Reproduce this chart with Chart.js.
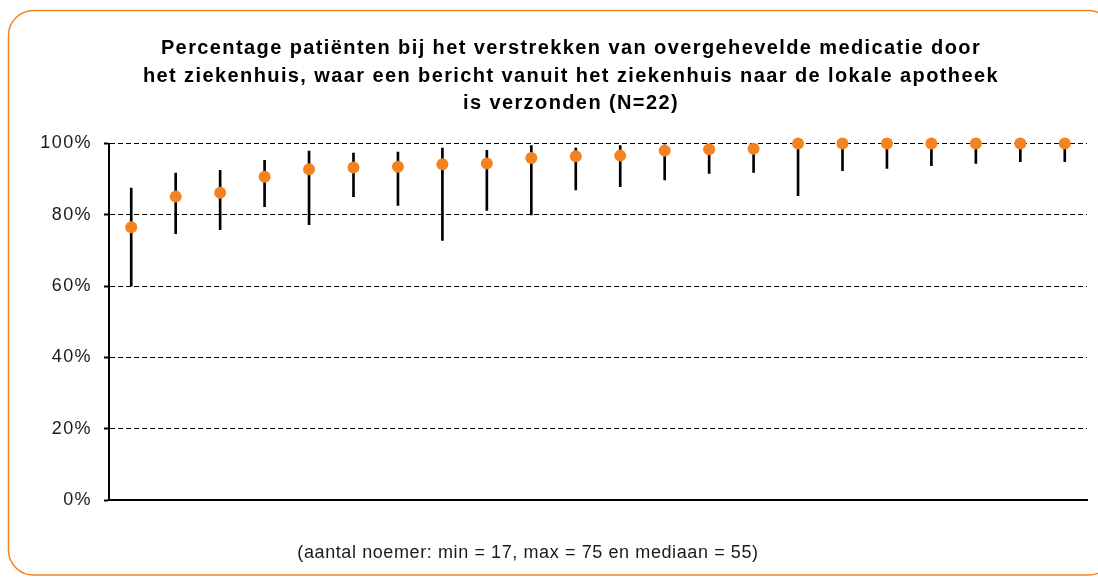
<!DOCTYPE html>
<html lang="nl">
<head>
<meta charset="utf-8">
<title>Overgehevelde medicatie - bericht naar lokale apotheek</title>
<script src="https://cdn.jsdelivr.net/npm/chart.js@4.4.1/dist/chart.umd.min.js"></script>
<style>
  html, body {
    margin: 0;
    padding: 0;
    background: #ffffff;
  }
  #wrap {
    position: relative;
    width: 1098px;
    height: 577px;
    overflow: hidden;
  }
  #footnote {
    position: absolute;
    left: 0;
    top: 541px;
    width: 1056px;
    text-align: center;
    font: 18px 'Liberation Sans', Arial, sans-serif;
    line-height: 22px;
    letter-spacing: 0.6px;
    color: #1a1a1a;
  }
</style>
</head>
<body>
<div id="wrap">
  <canvas id="ziekenhuisChart" width="1098" height="577"></canvas>
  <div id="footnote">(aantal noemer: min = 17, max = 75 en mediaan = 55)</div>
</div>
<script>
// Chart data (one entry per hospital, sorted by percentage)
const hospitals = ['1', '2', '3', '4', '5', '6', '7', '8', '9', '10', '11',
  '12', '13', '14', '15', '16', '17', '18', '19', '20', '21', '22'];
const percentages = [76.5, 85.1, 86.2, 90.7, 92.8, 93.3, 93.5, 94.2, 94.4, 95.9, 96.4,
  96.6, 98.0, 98.4, 98.5, 100, 100, 100, 100, 100, 100, 100];
const lowerBounds = [60.0, 74.7, 75.8, 82.3, 77.2, 85.1, 82.6, 72.8, 81.2, 80.0, 87.0,
  87.9, 89.8, 91.6, 91.9, 85.4, 92.4, 93.0, 93.8, 94.4, 94.9, 94.9];
const upperBounds = [87.5, 91.7, 92.5, 95.3, 97.9, 97.3, 97.6, 98.7, 98.1, 99.4, 98.7,
  99.4, 99.6, 99.8, 99.9, 100, 100, 100, 100, 100, 100, 100];
const yTicks = [0, 20, 40, 60, 80, 100];

const titleLines = [
  'Percentage patiënten bij het verstrekken van overgehevelde medicatie door',
  'het ziekenhuis, waar een bericht vanuit het ziekenhuis naar de lokale apotheek',
  'is verzonden (N=22)'
];

const ORANGE = '#F58220';
const FONT = "'Liberation Sans', Arial, sans-serif";

/**
 * Orange rounded frame around the whole chart, plus the wide text spacing
 */
const framePlugin = {
  id: 'frame',
  afterLayout(chart) {
    // let the y labels use the space left of the axis box (title stays centred)
    chart.scales.y.left = 0;
  },
  beforeDraw(chart) {
    const ctx = chart.ctx;
    const x = 8.5, y = 10.5, w = 1105, h = 564.5, r = 25;
    ctx.save();
    ctx.strokeStyle = ORANGE;
    ctx.lineWidth = 1.5;
    ctx.beginPath();
    ctx.moveTo(x + r, y);
    ctx.arcTo(x + w, y, x + w, y + h, r);
    ctx.arcTo(x + w, y + h, x, y + h, r);
    ctx.arcTo(x, y + h, x, y, r);
    ctx.arcTo(x, y, x + w, y, r);
    ctx.closePath();
    ctx.stroke();
    ctx.restore();
    // the original renders all text a bit spread out
    ctx.letterSpacing = '1.4px';
  },
  afterDraw(chart) {
    chart.ctx.letterSpacing = '0px';
  }
};

Chart.defaults.font.family = FONT;
Chart.defaults.color = '#000000';

const chartData = {
  labels: hospitals,
  datasets: [
    {
      // dots on top
      type: 'line',
      label: 'Percentage',
      data: percentages,
      showLine: false,
      pointRadius: 6,
      pointHoverRadius: 6,
      pointBackgroundColor: ORANGE,
      pointBorderWidth: 0,
      clip: false,
      order: 1
    },
    {
      // range lines as thin floating bars
      type: 'bar',
      label: 'Spreiding',
      data: lowerBounds.map((low, i) => [low, upperBounds[i]]),
      backgroundColor: '#000000',
      borderWidth: 0,
      barThickness: 2,
      order: 2
    }
  ]
};

const chartOptions = {
  responsive: false,
  animation: false,
  layout: {
    padding: { left: 55, right: 11, top: 0, bottom: 77 }
  },
  plugins: {
    legend: { display: false },
    tooltip: { enabled: false },
    title: {
      display: true,
      text: titleLines,
      color: '#000000',
      font: { size: 20, weight: 'bold', family: FONT, lineHeight: 1.375 },
      padding: { top: 35, bottom: 26 }
    }
  },
  scales: {
    x: {
      grid: { display: false, drawTicks: false },
      ticks: { display: false },
      border: { display: true, color: '#000000', width: 2 },
      afterFit: scale => { scale.height = 0; }
    },
    y: {
      min: 0,
      max: 100,
      afterFit: scale => { scale.width = 54; },
      afterBuildTicks: scale => {
        scale.ticks = yTicks.map(v => ({ value: v }));
      },
      ticks: {
        padding: 12,
        color: '#1a1a1a',
        font: { size: 18, family: FONT },
        callback: value => value + '%'
      },
      grid: {
        color: '#000000',
        lineWidth: 1,
        drawTicks: true,
        tickLength: 5,
        tickWidth: 2,
        tickColor: '#000000',
        tickBorderDash: []
      },
      border: {
        display: true,
        color: '#000000',
        width: 2,
        dash: [5, 3]
      }
    }
  }
};

const ctx = document.getElementById('ziekenhuisChart').getContext('2d');
const ziekenhuisChart = new Chart(ctx, {
  type: 'bar',
  data: chartData,
  options: chartOptions,
  plugins: [framePlugin]
});
</script>
</body>
</html>
